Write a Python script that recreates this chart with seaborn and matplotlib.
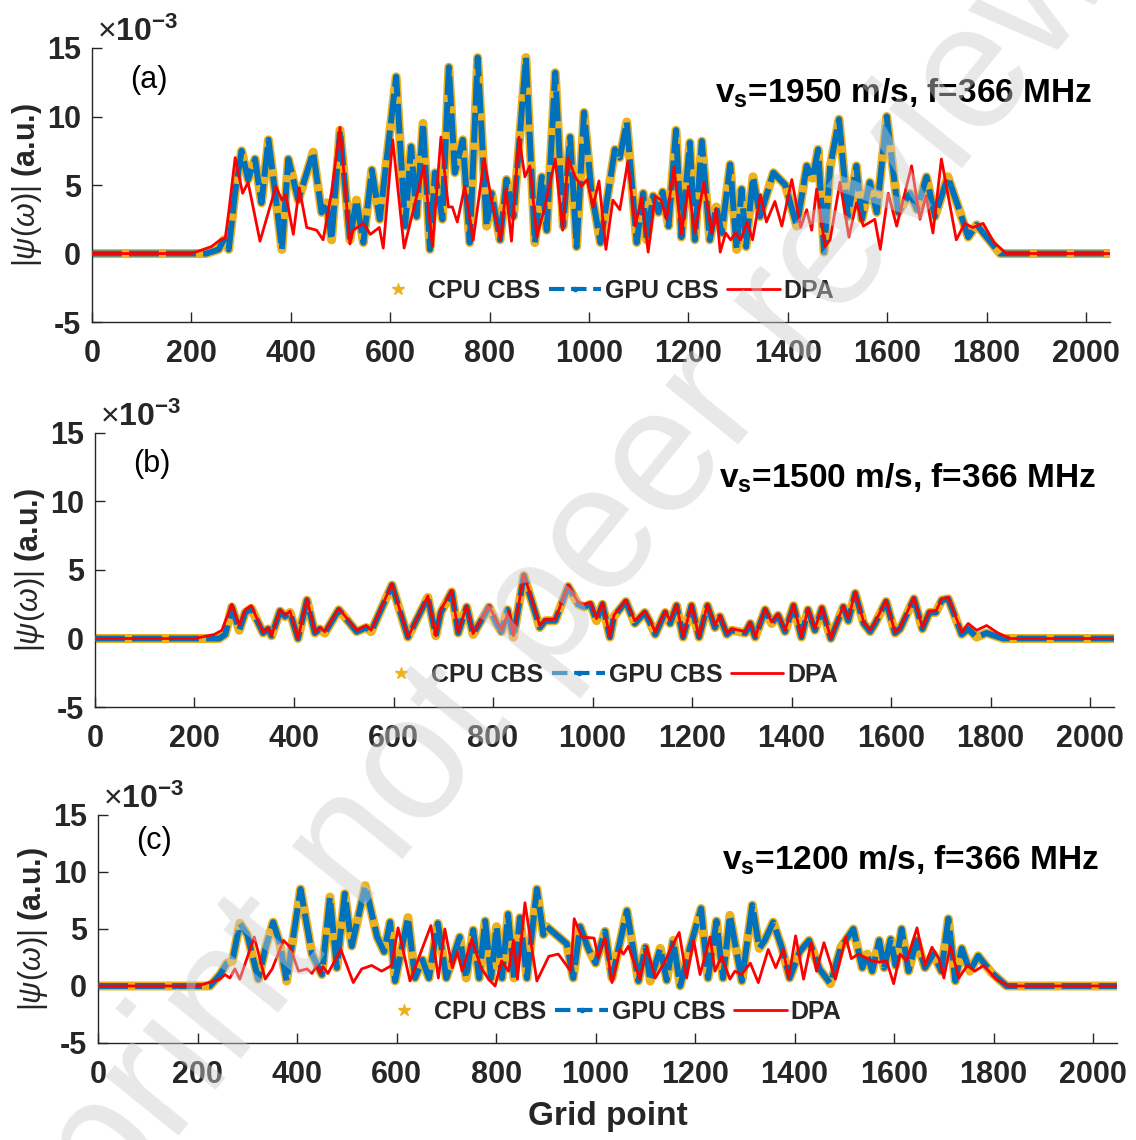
# plot.py
# Three stacked panels: |psi(omega)| along the grid for CPU CBS, GPU CBS and DPA
# at three shear velocities (f = 366 MHz). Values are in units of 1e-3.

import matplotlib.pyplot as plt
import seaborn as sns
from matplotlib.lines import Line2D

sns.set_style("ticks")
plt.rcParams["font.family"] = ["Liberation Sans", "DejaVu Sans"]
plt.rcParams["mathtext.fontset"] = "custom"
plt.rcParams["mathtext.rm"] = "Liberation Sans"
plt.rcParams["mathtext.it"] = "Liberation Sans:italic"
plt.rcParams["mathtext.bf"] = "Liberation Sans:bold"
plt.rcParams["axes.unicode_minus"] = False

CPU_COLOR = "#EDB120"
GPU_COLOR = "#0072BD"
DPA_COLOR = "#FF0000"
INK = "#262626"

X_TICKS = list(range(0, 2001, 200))
Y_TICKS = [-5, 0, 5, 10, 15]
LEGEND_LABELS = ["CPU CBS", "GPU CBS", "DPA"]

# ── panel (a): v_s = 1950 m/s ────────────────────────────────────────────────
A_CBS_X = [0, 230, 255, 265, 275, 288, 301, 314, 328, 341, 355, 370, 382, 395,
           415, 445, 462, 472, 482, 499, 519, 532, 546, 563, 579, 612, 630, 642,
           653, 666, 680, 690, 705, 718, 730, 746, 760, 776, 794, 804, 821, 834,
           848, 873, 891, 905, 915, 932, 948, 962, 975, 990, 1005, 1023, 1052,
           1062, 1076, 1096, 1109, 1116, 1129, 1140, 1148, 1160, 1175, 1186,
           1203, 1213, 1227, 1243, 1256, 1267, 1284, 1297, 1307, 1316, 1330,
           1344, 1371, 1395, 1418, 1438, 1450, 1461, 1473, 1485, 1503, 1521,
           1538, 1549, 1565, 1579, 1599, 1622, 1646, 1660, 1679, 1696, 1722,
           1743, 1763, 1780, 1800, 1827, 2048]
A_CBS_Y = [0, 0, 0.3, 1.0, 0.3, 4.5, 7.5, 5.4, 6.9, 3.7, 8.3, 4.0, 0.3, 6.9,
           3.9, 7.4, 3.0, 3.7, 1.0, 9.0, 1.0, 3.9, 0.8, 6.1, 2.5, 12.9, 2.0, 7.8,
           2.7, 9.5, 0.3, 5.9, 2.5, 13.6, 5.9, 8.3, 0.8, 14.3, 2.0, 4.4, 1.0, 5.4,
           2.7, 14.3, 0.8, 5.6, 1.7, 13.2, 2.0, 8.5, 0.5, 10.3, 4.5, 0.8, 7.6,
           7.0, 9.6, 0.8, 4.4, 1.0, 4.2, 3.0, 4.5, 2.0, 9.0, 1.2,
           8.1, 1.0, 8.2, 1.0, 3.4, 1.5, 6.5, 0.3, 4.7, 0.5, 5.6,
           2.7, 5.9, 5.0, 2.0, 6.4, 5.5, 7.6, 0.1, 6.3, 9.8, 2.7,
           6.4, 2.5, 5.2, 3.0, 10.0, 3.0, 4.4, 3.2, 5.6, 2.7, 5.6,
           3.4, 1.2, 2.1, 1.2, 0, 0]
A_DPA_X = [0, 200, 240, 258, 268, 275, 288, 303, 314, 338, 370, 382, 390, 405,
           417, 432, 452, 465, 482, 499, 519, 525, 546, 560, 578, 586, 605, 628,
           668, 685, 702, 717, 725, 735, 750, 767, 789, 804, 822, 833, 844, 859,
           871, 881, 895, 911, 932, 947, 958, 972, 985, 996, 1008, 1020, 1034,
           1048, 1062, 1078, 1093, 1106, 1119, 1133, 1145, 1156, 1171, 1186,
           1200, 1213, 1231, 1247, 1256, 1264, 1275, 1285, 1295, 1305, 1318,
           1329, 1345, 1357, 1374, 1388, 1408, 1426, 1438, 1448, 1458, 1475,
           1485, 1505, 1523, 1538, 1552, 1575, 1586, 1602, 1619, 1649, 1666,
           1678, 1692, 1709, 1739, 1756, 1772, 1793, 1815, 1840, 2048]
A_DPA_Y = [0, 0, 0.5, 1.0, 1.1, 3.0, 7.0, 4.4, 5.2, 0.9, 4.9, 3.9, 4.3, 1.4,
           4.8, 1.9, 1.7, 1.0, 4.5, 9.2, 0.7, 1.7, 2.2, 1.4, 1.9, 0.4, 8.3, 0.4,
           6.4, 0.5, 8.5, 3.4, 3.4, 2.3, 4.9, 1.0, 6.9, 3.9, 1.0, 4.7, 0.9, 8.5,
           5.6, 6.4, 1.2, 3.4, 6.9, 1.7, 7.0, 5.6, 4.9, 5.4, 3.4, 5.3, 0.3,
           3.9, 3.2, 6.7, 2.0, 4.1, 0.1, 4.2, 3.9, 2.5, 6.3, 1.4,
           4.9, 1.5, 5.2, 1.5, 3.3, 0.1, 1.5, 1.0, 1.5, 1.0, 2.3,
           1.0, 4.3, 2.3, 3.8, 2.0, 5.4, 1.9, 3.2, 1.7, 4.7, 0.5,
           1.0, 5.2, 1.2, 3.7, 2.0, 2.5, 0.3, 4.4, 2.0, 6.4, 2.5,
           4.2, 1.5, 6.9, 1.0, 2.2, 1.9, 2.2, 0.8, 0, 0]

# ── panel (b): v_s = 1500 m/s ────────────────────────────────────────────────
B_DPA_X = [0, 200, 240, 255, 275, 290, 302, 314, 338, 348, 355, 372, 382, 392,
           408, 426, 442, 452, 462, 490, 526, 545, 555, 597, 629, 669, 685, 695,
           717, 730, 747, 760, 792, 807, 817, 832, 841, 862, 894, 905, 925, 951,
           971, 983, 996, 1008, 1020, 1035, 1043, 1067, 1085, 1105, 1115, 1126,
           1146, 1156, 1169, 1182, 1199, 1214, 1231, 1246, 1256, 1270, 1280,
           1295, 1307, 1317, 1327, 1347, 1360, 1373, 1387, 1404, 1420, 1433,
           1447, 1461, 1479, 1504, 1514, 1528, 1545, 1558, 1568, 1590, 1608,
           1618, 1646, 1663, 1677, 1690, 1702, 1715, 1742, 1755, 1772, 1792,
           1815, 1839, 2048]
B_DPA_Y = [0, 0, 0.3, 0.6, 2.5, 0.95, 2.1, 2.4, 0.46, 0.8, 0.2, 2.1, 1.7, 2.0,
           0.0, 2.9, 0.46, 0.8, 0.5, 2.2, 0.6, 0.95, 0.6, 4.0, 0.1, 3.1, 0.2, 2.1,
           3.5, 0.46, 2.4, 0.36, 2.4, 1.3, 0.6, 2.0, 0.2, 4.7, 0.95, 1.4, 1.4, 3.9,
           2.65, 2.5, 2.65, 1.45, 2.65, 0.1, 1.7, 2.8, 1.3, 2.0, 1.4, 0.46,
           2.0, 1.3, 2.5, 0.1, 2.5, 0.1, 2.5, 0.95, 1.7, 0.36, 0.7,
           0.6, 0.5, 1.2, 0.1, 2.2, 1.2, 1.8, 0.6, 2.5, 0.1, 2.2,
           0.7, 2.3, 0.0, 2.4, 1.45, 3.4, 1.2, 0.6, 1.2, 2.8, 0.46,
           0.8, 3.0, 0.8, 2.0, 2.0, 2.9, 3.0, 0.46, 1.1, 0.6, 0.95,
           0.4, 0, 0]
B_CBS_X = [0, 250, 262, 275, 290, 302, 314, 338, 348, 355, 372, 382, 392,
           408, 426, 442, 452, 462, 490, 526, 545, 555, 597, 629, 669, 685, 695,
           717, 730, 747, 760, 792, 807, 817, 829, 841, 862, 894, 905, 925, 951,
           971, 983, 996, 1008, 1020, 1035, 1043, 1067, 1085, 1105, 1115, 1126,
           1146, 1156, 1169, 1182, 1199, 1214, 1231, 1246, 1256, 1270, 1280,
           1295, 1307, 1317, 1327, 1347, 1360, 1373, 1387, 1404, 1420, 1433,
           1447, 1461, 1479, 1504, 1514, 1528, 1545, 1558, 1568, 1590, 1608,
           1618, 1646, 1663, 1677, 1690, 1702, 1715, 1742, 1755, 1772, 1792,
           1825, 2048]
B_CBS_Y = [0, 0, 0.3, 2.3, 0.6, 1.9, 2.2, 0.4, 0.7, 0.2, 2.0, 1.6, 1.9,
           0.0, 2.8, 0.4, 0.7, 0.4, 2.1, 0.5, 0.8, 0.5, 3.9, 0.1, 3.0, 0.2, 1.9,
           3.4, 0.4, 2.3, 0.3, 2.3, 1.1, 0.5, 2.1, 0.1, 4.6, 0.8, 1.3, 1.3, 3.8,
           2.5, 2.3, 2.5, 1.3, 2.5, 0.1, 1.6, 2.7, 1.1, 1.9, 1.2, 0.3,
           1.9, 1.1, 2.4, 0.1, 2.4, 0.1, 2.4, 0.8, 1.6, 0.3, 0.6,
           0.5, 0.4, 1.1, 0.1, 2.1, 1.1, 1.7, 0.5, 2.4, 0.1, 2.1,
           0.6, 2.2, 0.0, 2.3, 1.3, 3.3, 1.1, 0.5, 1.1, 2.7, 0.4,
           0.7, 2.9, 0.7, 1.9, 1.9, 2.8, 2.9, 0.3, 0.7, 0.1, 0.4,
           0, 0]

# ── panel (c): v_s = 1200 m/s ────────────────────────────────────────────────
C_CBS_X = [0, 225, 245, 259, 270, 285, 300, 322, 337, 352, 365, 379, 407, 430,
           450, 466, 480, 496, 510, 537, 561, 575, 587, 597, 623, 637, 652, 665,
           683, 700, 727, 740, 754, 766, 778, 790, 801, 812, 824, 836, 848, 862,
           882, 895, 902, 942, 955, 969, 985, 1000, 1019, 1033, 1063, 1086, 1100,
           1110, 1130, 1143, 1156, 1170, 1190, 1212, 1226, 1243, 1256, 1270,
           1294, 1315, 1329, 1340, 1357, 1374, 1390, 1410, 1429, 1450, 1472,
           1493, 1518, 1536, 1546, 1556, 1570, 1580, 1593, 1603, 1615, 1629,
           1645, 1662, 1679, 1695, 1709, 1723, 1736, 1752, 1769, 1795, 1826,
           2048]
C_CBS_Y = [0, 0, 1.0, 2.0, 2.2, 5.5, 4.5, 0.6, 3.4, 5.6, 3.8, 0.44, 8.5, 2.8,
           1.0, 7.8, 1.6, 8.1, 3.5, 8.8, 4.3, 3.0, 5.6, 0.44, 6.0, 0.7, 2.3, 0.7,
           5.5, 0.7, 4.3, 0.7, 4.9, 0.7, 5.7, 0.7, 5.2, 0.7, 6.3, 0.7, 6.0, 0.7,
           8.5, 4.5, 5.2, 3.7, 0.7, 5.2, 3.3, 2.0, 4.8, 0.7, 6.6, 0.44, 3.4,
           0.44, 3.3, 0.5, 4.0, 0.0, 3.4, 6.8, 0.7, 5.7, 0.7, 6.2,
           0.44, 7.1, 3.3, 4.0, 5.6, 3.4, 0.7, 3.0, 4.0, 1.5, 0.2,
           3.4, 5.0, 1.6, 2.8, 1.3, 4.0, 1.6, 4.1, 1.8, 5.0, 1.3,
           4.0, 1.6, 2.8, 1.3, 5.9, 0.44, 3.3, 1.3, 2.65, 1.2, 0,
           0]
C_DPA_X = [0, 200, 245, 255, 265, 275, 285, 314, 336, 350, 373, 386, 403, 420,
           430, 439, 446, 452, 462, 488, 513, 530, 550, 570, 590, 603, 627, 669,
           684, 697, 712, 722, 732, 751, 770, 785, 798, 811, 825, 835, 843, 858,
           882, 906, 925, 950, 957, 972, 997, 1005, 1019, 1033, 1049, 1056, 1066,
           1089, 1103, 1120, 1140, 1150, 1168, 1183, 1197, 1210, 1230, 1240,
           1253, 1270, 1280, 1293, 1311, 1327, 1347, 1362, 1377, 1388, 1402,
           1418, 1433, 1444, 1459, 1482, 1503, 1514, 1528, 1542, 1556, 1570,
           1585, 1599, 1612, 1625, 1646, 1662, 1676, 1690, 1700, 1713, 1730,
           1747, 1762, 1780, 1805, 1830, 2048]
C_DPA_Y = [0, 0, 0.6, 1.0, 0.7, 1.5, 0.6, 4.3, 0.6, 1.5, 4.0, 3.4, 1.3, 1.5,
           1.1, 1.8, 1.1, 1.7, 1.1, 3.2, 0.3, 1.5, 1.8, 1.3, 1.8, 5.1, 0.44, 5.3,
           0.7, 5.0, 1.6, 3.0, 1.3, 4.1, 1.6, 0.6, 0.0, 2.2, 1.3, 4.0, 0.6, 7.3,
           0.44, 2.6, 2.8, 1.3, 5.9, 4.3, 4.2, 2.5, 4.2, 0.3, 3.2, 2.8, 3.5,
           0.6, 3.4, 0.7, 2.2, 3.2, 4.7, 0.7, 4.0, 1.0, 4.3, 1.3,
           2.6, 0.6, 1.3, 1.0, 2.0, 0.3, 3.2, 1.6, 3.2, 0.7, 4.4,
           0.6, 3.8, 1.3, 3.8, 0.6, 4.3, 2.4, 2.8, 2.5, 2.2, 2.1,
           2.2, 0.2, 2.8, 2.2, 5.1, 1.8, 3.4, 2.4, 0.7, 3.5, 0.7,
           1.8, 1.3, 1.8, 0.6, 0, 0]

PANELS = [
    # axes rect, tag, v_s, cbs, dpa, (tag y, title y, legend y) in axes fraction
    ([0.081, 0.7175, 0.896, 0.2404], "(a)", 1950, (A_CBS_X, A_CBS_Y), (A_DPA_X, A_DPA_Y), (0.885, 0.835, 0.113)),
    ([0.0836, 0.3798, 0.897, 0.2404], "(b)", 1500, (B_CBS_X, B_CBS_Y), (B_DPA_X, B_DPA_Y), (0.885, 0.835, 0.117)),
    ([0.0863, 0.0851, 0.897, 0.2000], "(c)", 1200, (C_CBS_X, C_CBS_Y), (C_DPA_X, C_DPA_Y), (0.885, 0.80, 0.136)),
]


def draw_panel(ax, tag, vs, cbs, dpa, pos):
    tag_y, title_y, leg_y = pos
    # CPU CBS drawn as a broad yellow band, GPU CBS dashed on top of it
    sns.lineplot(x=cbs[0], y=cbs[1], ax=ax, color=CPU_COLOR, linewidth=6.5,
                 estimator=None, sort=False, zorder=2)
    sns.lineplot(x=cbs[0], y=cbs[1], ax=ax, color=GPU_COLOR, linewidth=4.3,
                 linestyle=(0, (5, 1.2)), estimator=None, sort=False, zorder=3)
    sns.lineplot(x=dpa[0], y=dpa[1], ax=ax, color=DPA_COLOR, linewidth=2,
                 estimator=None, sort=False, zorder=4)

    ax.set_xlim(0, 2048)
    ax.set_ylim(-5, 15)
    ax.set_xticks(X_TICKS)
    ax.set_yticks(Y_TICKS)
    ax.tick_params(direction="in", length=7, width=1, colors=INK, labelsize=22)
    ax.tick_params(axis="x", pad=12)
    ax.tick_params(axis="y", pad=8)
    for lab in ax.get_xticklabels() + ax.get_yticklabels():
        lab.set_fontweight("bold")
    sns.despine(ax=ax)
    for side in ("left", "bottom"):
        ax.spines[side].set_color(INK)
        ax.spines[side].set_linewidth(1)
    ax.set_xlabel("")
    ax.set_ylabel(r"$|\psi(\omega)|$ (a.u.)", fontsize=22, fontweight="bold",
                  color=INK, labelpad=2)

    ax.text(0.005, 1.0, r"$\times$10$^{\mathbf{-3}}$", transform=ax.transAxes,
            fontsize=23, fontweight="bold", color=INK, va="bottom", ha="left")
    ax.text(0.037, tag_y, tag, transform=ax.transAxes, fontsize=22, va="center",
            ha="left", color="black")
    ax.text(0.982, title_y, rf"v$_\mathbf{{s}}$={vs} m/s, f=366 MHz",
            transform=ax.transAxes, fontsize=24, fontweight="bold", va="center",
            ha="right", color="black")

    handles = [
        Line2D([], [], linestyle="none", marker="*", markersize=9, color=CPU_COLOR),
        Line2D([], [], linestyle="--", marker=".", markersize=6, linewidth=3, color=GPU_COLOR),
        Line2D([], [], linestyle="-", linewidth=2, color=DPA_COLOR),
    ]
    ax.legend(handles, LEGEND_LABELS, ncol=3, frameon=False, loc="center",
              bbox_to_anchor=(0.502, leg_y), prop={"weight": "bold", "size": 18},
              handlelength=2.1, handletextpad=0.15, columnspacing=0.35)


fig = plt.figure(figsize=(11.36, 11.40), dpi=100)
axes = []
for rect, tag, vs, cbs, dpa, pos in PANELS:
    ax = fig.add_axes(rect)
    draw_panel(ax, tag, vs, cbs, dpa, pos)
    axes.append(ax)

axes[-1].set_xlabel("Grid point", fontsize=24, fontweight="bold", color=INK, labelpad=8)

# preprint watermark across the whole figure
fig.text(0.489, 0.476, "Preprint not peer reviewed", rotation=51, fontsize=128,
         color="#cccccc", alpha=0.45, ha="center", va="center", zorder=100,
         rotation_mode="anchor")

fig.savefig("out.png", dpi=100)
